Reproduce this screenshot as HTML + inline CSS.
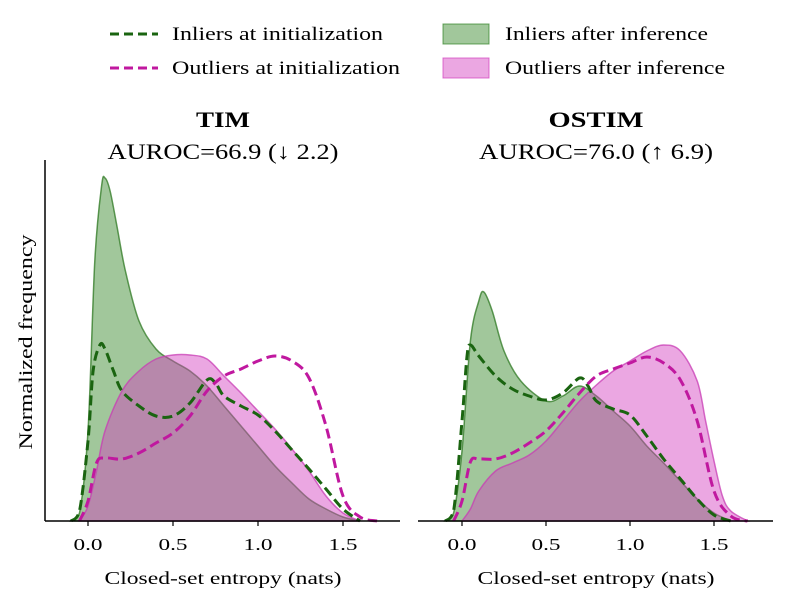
<!DOCTYPE html>
<html><head><meta charset="utf-8"><style>
body{margin:0;background:#fff}
svg{font-family:"Liberation Serif","DejaVu Serif",serif}
</style></head><body>
<svg id="chart" width="789" height="605" viewBox="0 0 789 605" xmlns="http://www.w3.org/2000/svg">
<g>
 <g><line x1="110" y1="34" x2="158" y2="34" stroke="#1a6410" stroke-width="3" stroke-dasharray="9,5"/><text x="172" y="40" font-size="19" textLength="211" lengthAdjust="spacingAndGlyphs">Inliers at initialization</text></g>
 <g><line x1="110" y1="68" x2="158" y2="68" stroke="#c0189f" stroke-width="3" stroke-dasharray="9,5"/><text x="172" y="74" font-size="19" textLength="228" lengthAdjust="spacingAndGlyphs">Outliers at initialization</text></g>
 <g><rect x="443" y="24" width="46" height="20" fill="rgba(46,130,34,0.45)" stroke="rgba(46,130,34,0.7)"/><text x="505" y="40" font-size="19" textLength="203" lengthAdjust="spacingAndGlyphs">Inliers after inference</text></g>
 <g><rect x="443" y="58" width="46" height="20" fill="rgba(210,60,190,0.45)" stroke="rgba(210,60,190,0.7)"/><text x="505" y="74" font-size="19" textLength="220" lengthAdjust="spacingAndGlyphs">Outliers after inference</text></g>
</g>
<text x="223" y="127" font-size="22" font-weight="bold" text-anchor="middle" textLength="54" lengthAdjust="spacingAndGlyphs">TIM</text>
<text x="223" y="159" font-size="22" text-anchor="middle" textLength="231" lengthAdjust="spacingAndGlyphs">AUROC=66.9 (↓ 2.2)</text>
<text x="596" y="127" font-size="22" font-weight="bold" text-anchor="middle" textLength="95" lengthAdjust="spacingAndGlyphs">OSTIM</text>
<text x="596" y="159" font-size="22" text-anchor="middle" textLength="234" lengthAdjust="spacingAndGlyphs">AUROC=76.0 (↑ 6.9)</text>
<text transform="translate(32,342) rotate(-90)" font-size="19" text-anchor="middle" textLength="215" lengthAdjust="spacingAndGlyphs">Normalized frequency</text>
<text x="223" y="584" font-size="18" text-anchor="middle" textLength="237" lengthAdjust="spacingAndGlyphs">Closed-set entropy (nats)</text>
<text x="596" y="584" font-size="18" text-anchor="middle" textLength="237" lengthAdjust="spacingAndGlyphs">Closed-set entropy (nats)</text>
</svg>
<script>
const xTicks=[0,0.5,1.0,1.5];
const xTickLabels=["0.0","0.5","1.0","1.5"];
const timInAfterX=[-0.1,-0.05,0,0.04,0.08,0.1,0.13,0.17,0.22,0.3,0.4,0.5,0.6,0.7,0.8,0.9,1.0,1.1,1.2,1.3,1.4,1.5,1.6];
const timInAfterY=[0,8,90,260,335,343,330,295,250,200,172,160,150,135,115,95,75,55,38,22,12,4,0];
const timInInitX=[-0.1,-0.05,0,0.03,0.07,0.1,0.15,0.2,0.3,0.4,0.5,0.6,0.7,0.75,0.8,0.9,1.0,1.1,1.2,1.3,1.4,1.5,1.6];
const timInInitY=[0,10,80,150,176,172,150,130,115,105,105,118,141,138,125,115,106,90,71,52,32,12,0];
const timOutAfterX=[-0.05,0,0.05,0.1,0.2,0.3,0.4,0.5,0.6,0.7,0.8,0.9,1.0,1.1,1.2,1.3,1.4,1.5,1.6];
const timOutAfterY=[0,15,50,90,130,150,162,166,166,162,145,128,110,92,72,50,25,8,0];
const timOutInitX=[-0.05,0,0.05,0.1,0.2,0.3,0.4,0.5,0.6,0.7,0.8,0.9,1.0,1.1,1.2,1.3,1.4,1.5,1.6,1.7];
const timOutInitY=[0,20,58,63,62,68,78,88,105,130,145,152,160,165,160,143,95,25,4,0];
const osInAfterX=[-0.1,-0.05,0,0.05,0.1,0.13,0.18,0.25,0.35,0.5,0.6,0.7,0.8,0.9,1.0,1.1,1.2,1.3,1.4,1.5,1.6];
const osInAfterY=[0,8,70,180,220,229,210,170,140,120,125,135,125,110,95,75,58,40,22,8,0];
const osInInitX=[-0.1,-0.05,0,0.03,0.05,0.1,0.2,0.3,0.4,0.5,0.6,0.7,0.75,0.8,0.9,1.0,1.1,1.2,1.3,1.4,1.5,1.6];
const osInInitY=[0,10,100,165,176,165,145,132,125,121,128,143,135,120,112,106,85,62,42,22,6,0];
const osOutAfterX=[0,0.05,0.1,0.2,0.3,0.4,0.5,0.6,0.7,0.8,0.9,1.0,1.1,1.2,1.3,1.4,1.45,1.5,1.55,1.6,1.7];
const osOutAfterY=[0,12,30,50,58,66,80,100,120,136,150,160,170,176,170,140,100,60,25,10,0];
const osOutInitX=[-0.05,0,0.05,0.1,0.2,0.3,0.4,0.5,0.6,0.7,0.8,0.9,1.0,1.1,1.2,1.3,1.4,1.5,1.6,1.7];
const osOutInitY=[0,20,59,62,62,68,78,90,108,128,145,152,158,164,158,141,100,30,5,0];

const NS="http://www.w3.org/2000/svg";
const svg=document.getElementById('chart');
const baseY=521, yScale=v=>baseY-v;
function mk(tag,attrs,parent){const e=document.createElementNS(NS,tag);for(const k in attrs)e.setAttribute(k,attrs[k]);(parent||svg).appendChild(e);return e;}
function smooth(pts){let d=`M${pts[0][0]},${pts[0][1]}`;for(let i=0;i<pts.length-1;i++){const p0=pts[Math.max(0,i-1)],p1=pts[i],p2=pts[i+1],p3=pts[Math.min(pts.length-1,i+2)];
 const c1=[p1[0]+(p2[0]-p0[0])/6,p1[1]+(p2[1]-p0[1])/6],c2=[p2[0]-(p3[0]-p1[0])/6,p2[1]-(p3[1]-p1[1])/6];
 d+=` C${c1[0]},${Math.min(baseY,c1[1])} ${c2[0]},${Math.min(baseY,c2[1])} ${p2[0]},${p2[1]}`;}return d;}
function panel(name,x0,pxPerUnit,axL,axR,spine,series){
 const xs=v=>x0+v*pxPerUnit;
 const g=mk('g',{});
 
 
 series.forEach(s=>{
  const pts=s.x.map((v,i)=>[xs(v),yScale(s.y[i])]);
  let d=smooth(pts);
  const p=mk('path',{},g);
  
  
  if(s.fill){d+=` L${pts[pts.length-1][0]},${baseY} L${pts[0][0]},${baseY} Z`;p.setAttribute('d',d);p.setAttribute('fill',s.fill);p.setAttribute('stroke',s.stroke);p.setAttribute('stroke-width','1.5');}
  else{p.setAttribute('d',d);p.setAttribute('fill','none');p.setAttribute('stroke',s.stroke);p.setAttribute('stroke-width','3');p.setAttribute('stroke-dasharray','10,5');}
 });
 const ax=mk('line',{x1:axL,y1:baseY,x2:axR,y2:baseY,stroke:'#000','stroke-width':1.5},g);
 
 
 if(spine){const sp=mk('line',{x1:axL,y1:160,x2:axL,y2:baseY,stroke:'#000','stroke-width':1.5},g);
  
  }
 xTicks.forEach((t,i)=>{
  mk('line',{x1:xs(t),y1:baseY,x2:xs(t),y2:baseY+5,stroke:'#000','stroke-width':1.2},g);
  const tx=mk('text',{x:xs(t),y:baseY+29,'font-size':17,'text-anchor':'middle',textLength:29,lengthAdjust:'spacingAndGlyphs'},g);
  tx.textContent=xTickLabels[i];
  
  
 });
}
const GF='rgba(46,130,34,0.45)',GS='rgba(46,120,34,0.75)',PF='rgba(210,60,190,0.45)',PS='rgba(200,60,180,0.75)',GD='#1a6410',PD='#c0189f';
panel('tim',88,170,45,400,true,[
 {name:'inliers-after',x:timInAfterX,y:timInAfterY,fill:GF,stroke:GS},
 {name:'outliers-after',x:timOutAfterX,y:timOutAfterY,fill:PF,stroke:PS},
 {name:'inliers-init',x:timInInitX,y:timInInitY,stroke:GD},
 {name:'outliers-init',x:timOutInitX,y:timOutInitY,stroke:PD}]);
panel('ostim',462,168,418,773,false,[
 {name:'inliers-after',x:osInAfterX,y:osInAfterY,fill:GF,stroke:GS},
 {name:'outliers-after',x:osOutAfterX,y:osOutAfterY,fill:PF,stroke:PS},
 {name:'inliers-init',x:osInInitX,y:osInInitY,stroke:GD},
 {name:'outliers-init',x:osOutInitX,y:osOutInitY,stroke:PD}]);
</script>
</body></html>
